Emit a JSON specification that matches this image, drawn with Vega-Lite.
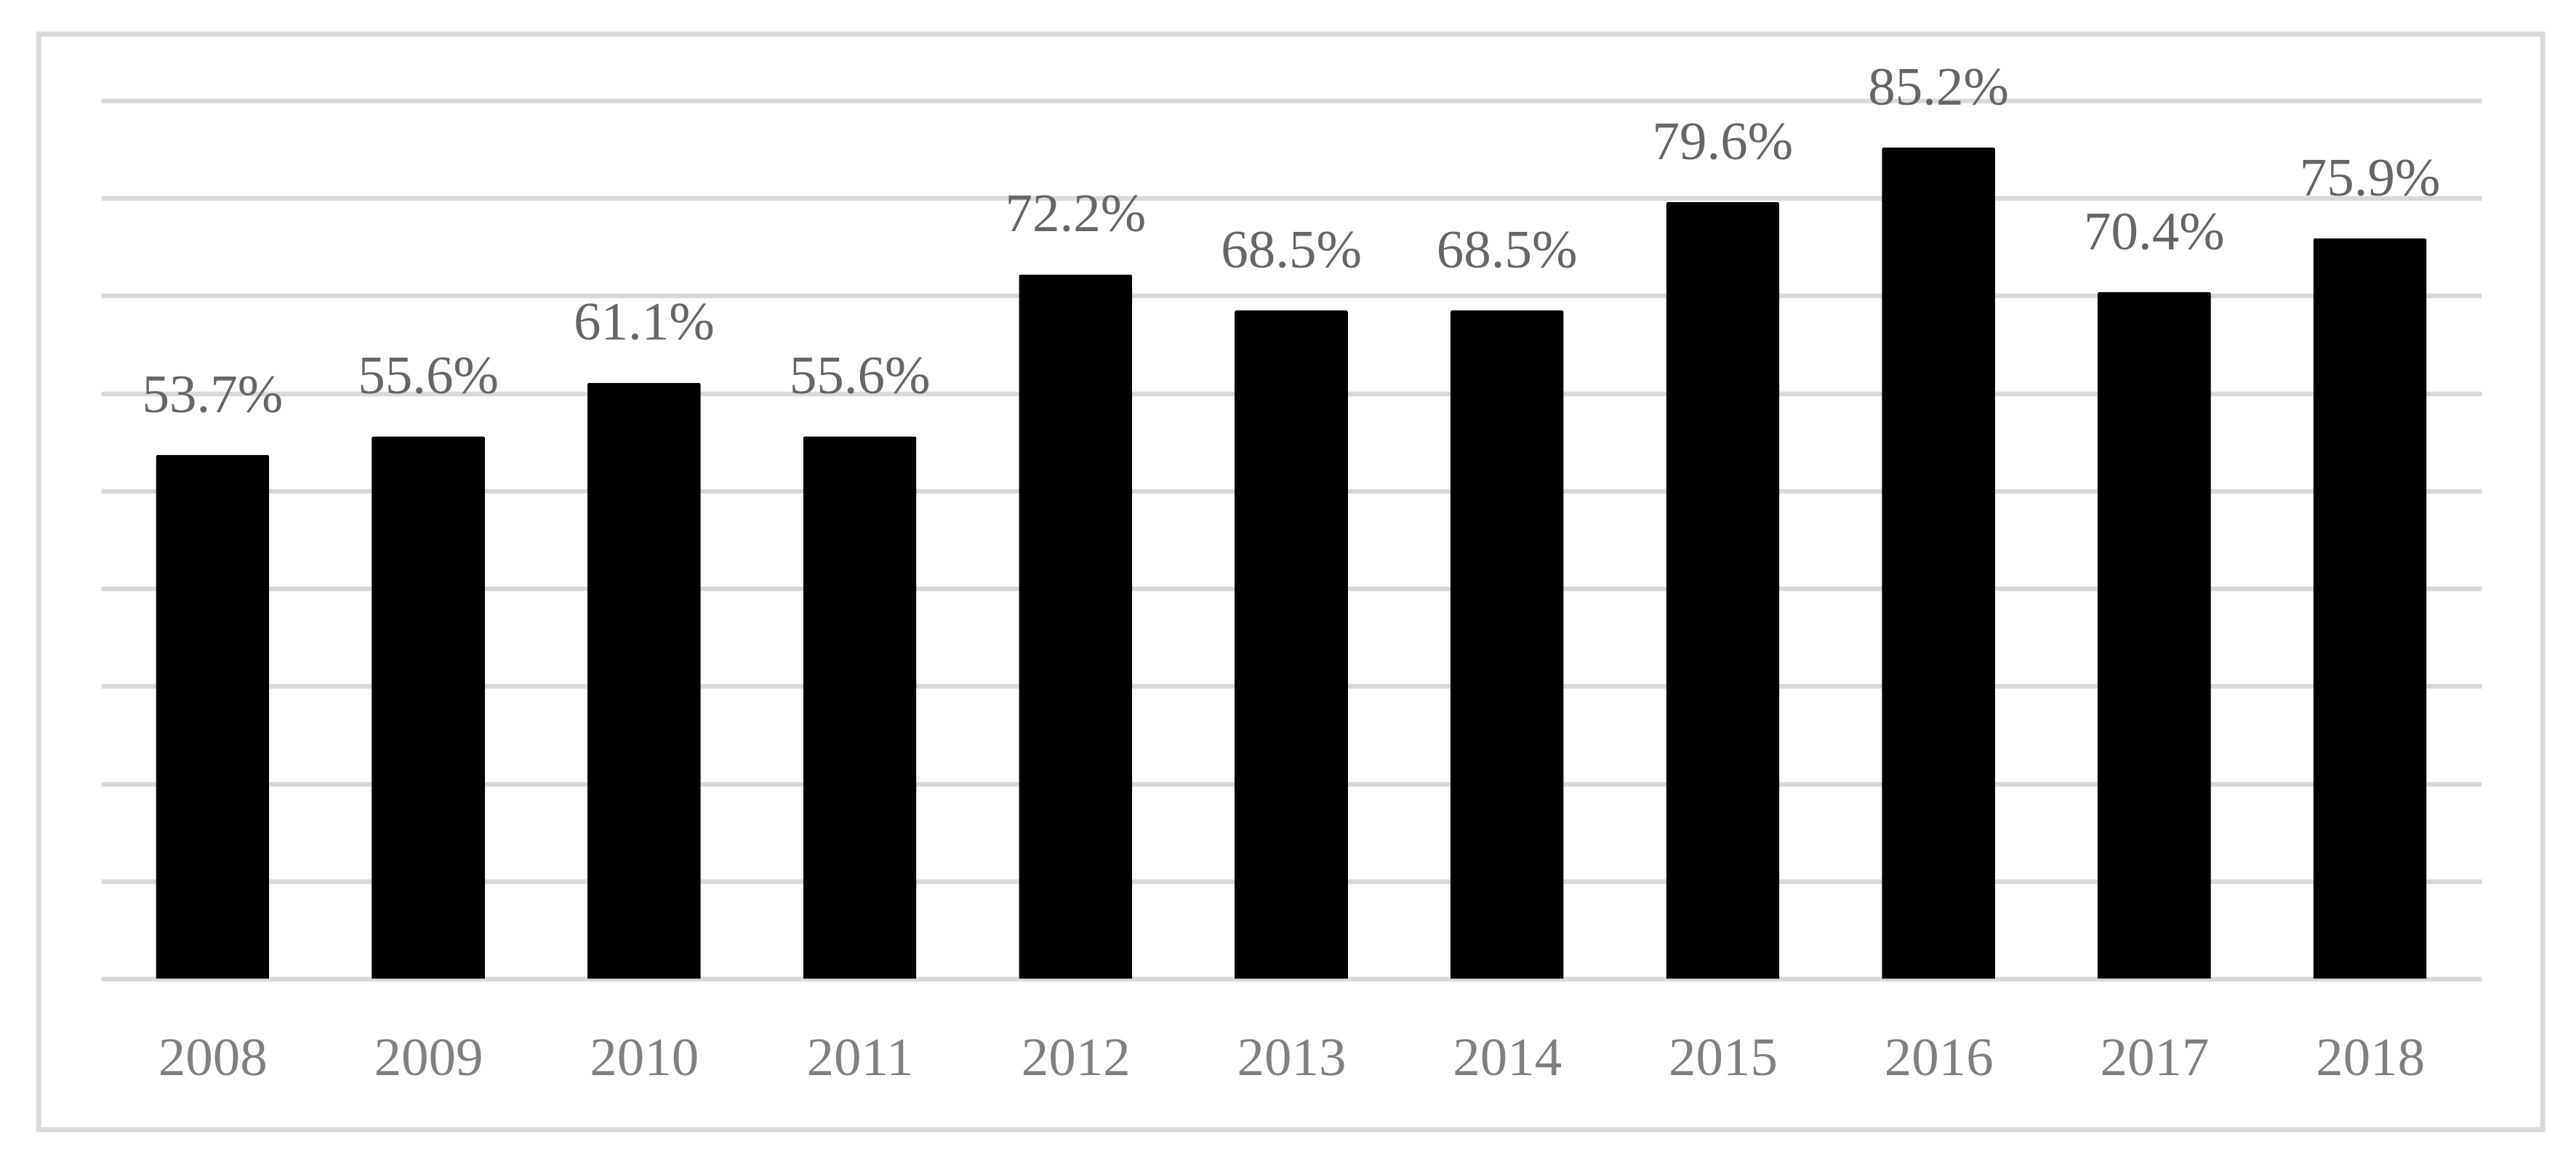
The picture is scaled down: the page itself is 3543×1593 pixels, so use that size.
{
  "$schema": "https://vega.github.io/schema/vega-lite/v6.json",
  "width": 3274,
  "height": 1208,
  "autosize": "none",
  "padding": {"left": 139, "top": 138.5, "right": 130, "bottom": 246.5},
  "background": "white",
  "config": {"view": {"stroke": null}},
  "data": {
    "values": [
      {"year": 2008, "rate": 0.537},
      {"year": 2009, "rate": 0.556},
      {"year": 2010, "rate": 0.611},
      {"year": 2011, "rate": 0.556},
      {"year": 2012, "rate": 0.722},
      {"year": 2013, "rate": 0.685},
      {"year": 2014, "rate": 0.685},
      {"year": 2015, "rate": 0.796},
      {"year": 2016, "rate": 0.852},
      {"year": 2017, "rate": 0.704},
      {"year": 2018, "rate": 0.759}
    ]
  },
  "layer": [
    {
      "data": {"values": [{"frame": "border"}]},
      "mark": {"type": "rect", "filled": false, "stroke": "#d9d9d9", "strokeWidth": 7, "clip": false},
      "encoding": {
        "x": {"datum": 2007.194, "type": "quantitative"},
        "x2": {"datum": 2018.801},
        "y": {"datum": 0.96817, "type": "quantitative"},
        "y2": {"datum": -0.1546}
      }
    },
    {
      "mark": {"type": "bar", "width": 156, "color": "#000000", "cornerRadiusTopLeft": 3, "cornerRadiusTopRight": 3},
      "encoding": {
        "x": {
          "field": "year",
          "type": "quantitative",
          "scale": {"domain": [2007.5, 2018.5], "nice": false, "zero": false},
          "axis": {
            "values": [2008, 2009, 2010, 2011, 2012, 2013, 2014, 2015, 2016, 2017, 2018],
            "format": "d",
            "title": null,
            "domain": false,
            "ticks": false,
            "tickSize": 0,
            "grid": false,
            "labelFont": "Liberation Serif",
            "labelFontSize": 75,
            "labelColor": "#808080",
            "labelPadding": 131.5,
            "labelBaseline": "alphabetic",
            "labelFlush": false,
            "labelOverlap": false
          }
        },
        "y": {
          "field": "rate",
          "type": "quantitative",
          "scale": {"domain": [0, 0.9], "nice": false},
          "axis": {
            "values": [0, 0.1, 0.2, 0.3, 0.4, 0.5, 0.6, 0.7, 0.8, 0.9],
            "grid": true,
            "gridColor": "#d9d9d9",
            "gridWidth": 6.5,
            "labels": false,
            "ticks": false,
            "domain": false,
            "title": null
          }
        }
      }
    },
    {
      "mark": {"type": "text", "baseline": "alphabetic", "dy": -59, "font": "Liberation Serif", "fontSize": 75, "color": "#666666"},
      "encoding": {
        "x": {"field": "year", "type": "quantitative"},
        "y": {"field": "rate", "type": "quantitative"},
        "text": {"field": "rate", "type": "quantitative", "format": ".1%"}
      }
    }
  ]
}
